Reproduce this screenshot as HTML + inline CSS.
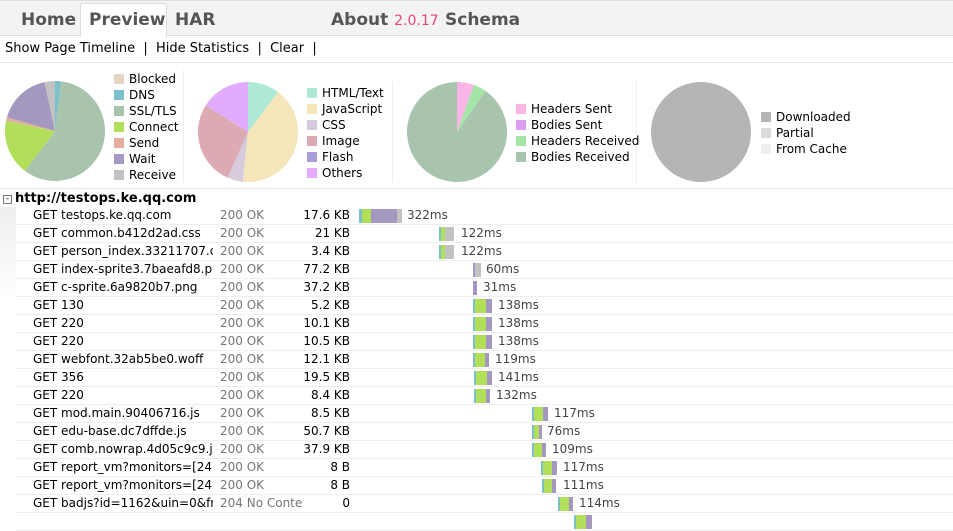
<!DOCTYPE html>
<html><head><meta charset="utf-8"><style>
body{margin:0;width:953px;height:515px;overflow:hidden;background:#fff;font-family:"DejaVu Sans","Liberation Sans",sans-serif;position:relative}
.abs{position:absolute;white-space:nowrap}
.tabbar{position:absolute;left:0;top:0;width:953px;height:36px;background:#f3f3f3;border-top:1px solid #ddd;border-bottom:1px solid #ddd;box-sizing:border-box}
.tab{position:absolute;top:10px;font:bold 17px "DejaVu Sans","Liberation Sans",sans-serif;color:#555}
.lg{position:absolute;font-size:12px;color:#000;line-height:16px}
.lg div{height:16px}
.lg span{display:inline-block;width:10px;height:10px;margin-right:5px;vertical-align:-1px}
.row{position:absolute;left:16px;width:937px;height:18px;border-bottom:1px solid #eee;box-sizing:border-box;font-size:12px;line-height:17px;white-space:nowrap}
.row .u{position:absolute;left:17px;width:180px;overflow:hidden;color:#000;white-space:nowrap}
.row .s{position:absolute;left:204px;width:82px;overflow:hidden;color:#777}
.row .z{position:absolute;right:603px;color:#000}
.row .l{position:absolute;color:#444}
.b{position:absolute;top:2px;height:14px}
</style></head><body>
<div class="tabbar"></div>
<div class="abs" style="left:80px;top:3px;width:85px;height:33px;background:#fff;border:1px solid #ddd;border-bottom:none;border-radius:3px 3px 0 0"></div>
<div class="tab" style="left:21px">Home</div>
<div class="tab" style="left:89px">Preview</div>
<div class="tab" style="left:175px">HAR</div>
<div class="tab" style="left:331px">About <span style="color:#e0457b;font-weight:normal;font-size:14px">2.0.17</span></div>
<div class="tab" style="left:445px">Schema</div>
<div class="abs" style="left:5px;top:41px;font-size:13px;color:#000">Show Page Timeline &nbsp;|&nbsp; Hide Statistics &nbsp;|&nbsp; Clear &nbsp;|</div>
<div class="abs" style="left:0;top:62px;width:953px;border-top:1px solid #e6e6e6"></div>
<div class="abs" style="left:183px;top:70px;height:112px;border-left:1px solid #eee"></div>
<div class="abs" style="left:392px;top:82px;height:100px;border-left:1px solid #eee"></div>
<div class="abs" style="left:636px;top:82px;height:100px;border-left:1px solid #eee"></div>
<div class="abs" style="left:0;top:188px;width:953px;border-top:1px solid #e6e6e6"></div>
<svg id="pies" class="abs" style="left:0;top:0" width="953" height="200"></svg>
<div class="lg" style="left:114px;top:71px">
<div><span style="background:#e3d5c0"></span>Blocked</div><div><span style="background:#7bc0ca"></span>DNS</div><div><span style="background:#a8c4ad"></span>SSL/TLS</div><div><span style="background:#b2df5a"></span>Connect</div><div><span style="background:#e2aea0"></span>Send</div><div><span style="background:#a498c0"></span>Wait</div><div><span style="background:#c2c2c2"></span>Receive</div></div>
<div class="lg" style="left:307px;top:85px">
<div><span style="background:#aee9d8"></span>HTML/Text</div><div><span style="background:#f5e5bb"></span>JavaScript</div><div><span style="background:#d5cbdb"></span>CSS</div><div><span style="background:#dcaab3"></span>Image</div><div><span style="background:#a7a0da"></span>Flash</div><div><span style="background:#e1acfb"></span>Others</div></div>
<div class="lg" style="left:516px;top:101px">
<div><span style="background:#f7b6e5"></span>Headers Sent</div><div><span style="background:#dc9cf0"></span>Bodies Sent</div><div><span style="background:#a5e6a8"></span>Headers Received</div><div><span style="background:#a8c4ad"></span>Bodies Received</div></div>
<div class="lg" style="left:761px;top:109px">
<div><span style="background:#b5b5b5"></span>Downloaded</div><div><span style="background:#dadada"></span>Partial</div><div><span style="background:#eee"></span>From Cache</div></div>
<div class="abs" style="left:3px;top:195px;width:7px;height:7px;border:1px solid #777;font-size:9px;line-height:7px;text-align:center">-</div>
<div class="abs" style="left:15px;top:191px;font-size:13px;font-weight:bold;color:#000">http://testops.ke.qq.com</div>
<div class="abs" style="left:0;top:207px;width:16px;height:309px;background:linear-gradient(#eee,#fff 30%)"></div>
<div id="rows"></div>
<script>
function pie(cx,cy,r,seg){let s='',a0=0;for(const[a1,c]of seg){const p=(a)=>{const t=a*Math.PI/180;return[(cx+r*Math.sin(t)).toFixed(2),(cy-r*Math.cos(t)).toFixed(2)]};const A=p(a0),B=p(a1);s+=`<path d="M${cx},${cy}L${A}A${r},${r} 0 ${a1-a0>180?1:0} 1 ${B}Z" fill="${c}"/>`;a0=a1;}return s}
let h=pie(55,131,50,[[7,'#7bc0ca'],[217,'#a8c4ad'],[282,'#b2df5a'],[286,'#e2aea0'],[348,'#a498c0'],[360,'#c2c2c2']]);
h+=pie(248,132,50,[[37,'#aee9d8'],[186,'#f5e5bb'],[204,'#d5cbdb'],[302,'#dcaab3'],[360,'#e1acfb']]);
h+=pie(457,132,50,[[20,'#f7b6e5'],[35,'#a5e6a8'],[360,'#a8c4ad']]);
h+=`<circle cx="701" cy="132" r="50" fill="#b5b5b5"/>`;
document.getElementById('pies').innerHTML=h;
const R=[["GET testops.ke.qq.com","200 OK","17.6 KB",[[359,3,'#7bc0ca'],[362,9,'#b2df5a'],[371,26,'#a498c0'],[397,5,'#c2c2c2']],407,"322ms"],
["GET common.b412d2ad.css","200 OK","21 KB",[[439,2,'#7bc0ca'],[441,4,'#b2df5a'],[445,9,'#c2c2c2']],461,"122ms"],
["GET person_index.33211707.css","200 OK","3.4 KB",[[439,2,'#7bc0ca'],[441,4,'#b2df5a'],[445,9,'#c2c2c2']],461,"122ms"],
["GET index-sprite3.7baeafd8.png","200 OK","77.2 KB",[[473,2,'#a498c0'],[475,6,'#c2c2c2']],486,"60ms"],
["GET c-sprite.6a9820b7.png","200 OK","37.2 KB",[[473,4,'#a498c0']],483,"31ms"],
["GET 130","200 OK","5.2 KB",[[473,2,'#7bc0ca'],[475,11,'#b2df5a'],[486,6,'#a498c0']],498,"138ms"],
["GET 220","200 OK","10.1 KB",[[473,2,'#7bc0ca'],[475,11,'#b2df5a'],[486,6,'#a498c0']],498,"138ms"],
["GET 220","200 OK","10.5 KB",[[473,2,'#7bc0ca'],[475,11,'#b2df5a'],[486,6,'#a498c0']],498,"138ms"],
["GET webfont.32ab5be0.woff","200 OK","12.1 KB",[[473,2,'#7bc0ca'],[475,10,'#b2df5a'],[485,4,'#a498c0']],495,"119ms"],
["GET 356","200 OK","19.5 KB",[[474,2,'#7bc0ca'],[476,11,'#b2df5a'],[487,5,'#a498c0']],498,"141ms"],
["GET 220","200 OK","8.4 KB",[[474,2,'#7bc0ca'],[476,10,'#b2df5a'],[486,4,'#a498c0']],496,"132ms"],
["GET mod.main.90406716.js","200 OK","8.5 KB",[[532,2,'#7bc0ca'],[534,9,'#b2df5a'],[543,5,'#a498c0']],554,"117ms"],
["GET edu-base.dc7dffde.js","200 OK","50.7 KB",[[532,2,'#7bc0ca'],[534,5,'#b2df5a'],[539,3,'#a498c0']],547,"76ms"],
["GET comb.nowrap.4d05c9c9.js","200 OK","37.9 KB",[[532,2,'#7bc0ca'],[534,8,'#b2df5a'],[542,4,'#a498c0']],552,"109ms"],
["GET report_vm?monitors=[24]","200 OK","8 B",[[541,2,'#7bc0ca'],[543,9,'#b2df5a'],[552,5,'#a498c0']],563,"117ms"],
["GET report_vm?monitors=[24]","200 OK","8 B",[[542,2,'#7bc0ca'],[544,8,'#b2df5a'],[552,4,'#a498c0']],563,"111ms"],
["GET badjs?id=1162&uin=0&from","204 No Content","0",[[558,2,'#7bc0ca'],[560,9,'#b2df5a'],[569,4,'#a498c0']],579,"114ms"],
["","","",[[574,2,'#7bc0ca'],[576,10,'#b2df5a'],[586,6,'#a498c0']],0,""]];
let o='';R.forEach((r,i)=>{o+=`<div class="row" style="top:${207+18*i}px"><span class="u">${r[0].replace(/&/g,'&amp;')}</span><span class="s">${r[1]}</span><span class="z">${r[2]}</span>`;
r[3].forEach(b=>{o+=`<div class="b" style="left:${b[0]-16}px;width:${b[1]}px;background:${b[2]}"></div>`});
if(r[5])o+=`<span class="l" style="left:${r[4]-16}px">${r[5]}</span>`;o+='</div>'});
document.getElementById('rows').innerHTML=o;
</script>
</body></html>
